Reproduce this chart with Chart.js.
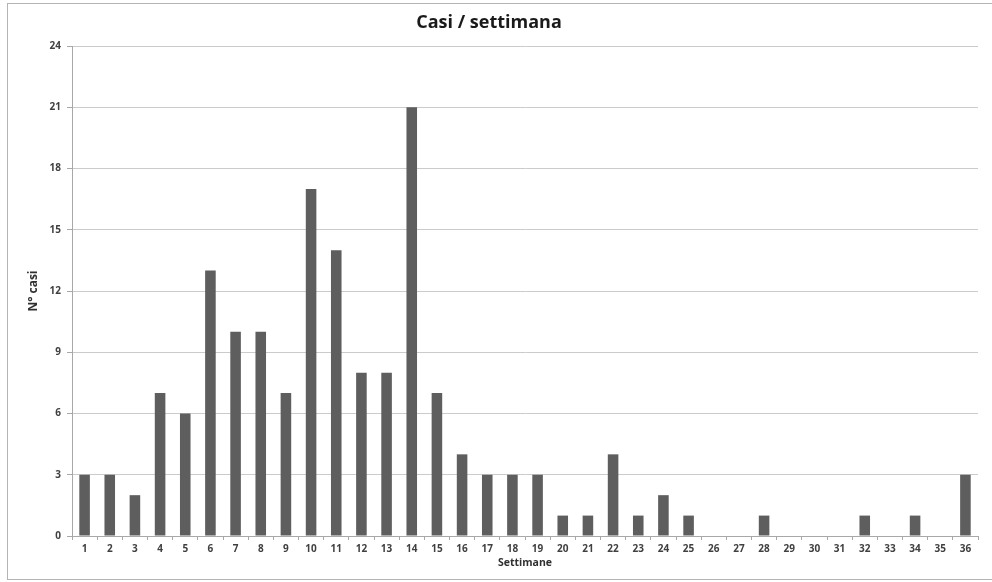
<!DOCTYPE html>
<html>
<head>
<meta charset="utf-8">
<script src="https://cdn.jsdelivr.net/npm/chart.js@4.4.0/dist/chart.umd.min.js"></script>
<style>
  html, body { margin: 0; padding: 0; background: #ffffff; }
  #wrap { position: relative; width: 992px; height: 582px; }
  #frame {
    position: absolute; left: 7px; top: 3px; width: 990px; height: 577px;
    border: 1px solid #b4b4b4; box-sizing: border-box; pointer-events: none;
  }
</style>
</head>
<body>
<div id="wrap">
  <canvas id="chart" width="992" height="582"></canvas>
  <div id="frame"></div>
</div>
<script>
// Weekly case counts
const weeks = ['1','2','3','4','5','6','7','8','9','10','11','12','13','14','15','16','17','18',
               '19','20','21','22','23','24','25','26','27','28','29','30','31','32','33','34','35','36'];
const cases = [3, 3, 2, 7, 6, 13, 10, 10, 7, 17, 14, 8, 8, 21, 7, 4, 3, 3,
               3, 1, 1, 4, 1, 2, 1, 0, 0, 1, 0, 0, 0, 1, 0, 1, 0, 3];
const yTicks = [0, 3, 6, 9, 12, 15, 18, 21, 24];

const family = '"Open Sans", Lato, sans-serif';
const labelFont = { family: family, size: 10, weight: 'bold' };

new Chart(document.getElementById('chart'), {
  type: 'bar',
  data: {
    labels: weeks,
    datasets: [{
      label: 'N° casi',
      data: cases,
      backgroundColor: '#5e5e5e',
      borderWidth: 0,
      barPercentage: 0.42,
      categoryPercentage: 1.0
    }]
  },
  options: {
    responsive: false,
    animation: false,
    layout: { padding: { left: 0, right: 14, top: 0, bottom: 0 } },
    plugins: {
      legend: { display: false },
      tooltip: { enabled: false },
      title: {
        display: true,
        text: 'Casi / settimana',
        color: '#1a1a1a',
        font: { family: family, size: 18, weight: 'bold', lineHeight: 1.2 },
        padding: { top: 12, bottom: 12.4 }
      }
    },
    scales: {
      x: {
        offset: true,
        grid: {
          offset: true,
          drawOnChartArea: false,
          drawTicks: true,
          tickLength: 4,
          color: '#a8a8a8'
        },
        border: { display: true, color: '#a8a8a8' },
        ticks: {
          color: '#404040',
          font: labelFont,
          padding: 3,
          maxRotation: 0,
          autoSkip: false
        },
        title: {
          display: true,
          text: 'Settimane',
          color: '#303030',
          font: { family: family, size: 10.5, weight: 'bold', lineHeight: 1.2 },
          padding: { top: 0, bottom: 12.5 }
        },
        afterFit: s => { s.height = 46; }
      },
      y: {
        min: 0,
        max: 24,
        afterBuildTicks: s => { s.ticks = yTicks.map(v => ({ value: v })); },
        grid: {
          color: '#cbcbcb',
          lineWidth: 1,
          drawTicks: true,
          tickLength: 5,
          tickColor: '#a8a8a8'
        },
        border: { display: true, color: '#a8a8a8' },
        ticks: {
          color: '#404040',
          font: labelFont,
          padding: 6
        },
        title: {
          display: true,
          text: 'N° casi',
          color: '#303030',
          font: { family: family, size: 12, weight: 'bold', lineHeight: 1.2 },
          padding: { top: 26.5, bottom: 0 }
        },
        afterFit: s => { s.width = 72; }
      }
    }
  }
});
</script>
</body>
</html>
